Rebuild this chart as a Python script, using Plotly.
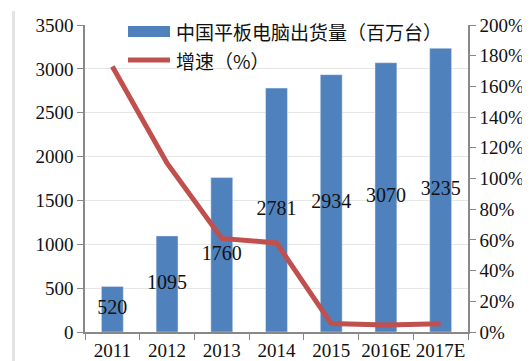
import plotly.graph_objects as go

years = ["2011", "2012", "2013", "2014", "2015", "2016E", "2017E"]
shipments = [520, 1095, 1760, 2781, 2934, 3070, 3235]
growth = [1.73, 1.10, 0.61, 0.58, 0.055, 0.046, 0.054]
bar_name = "中国平板电脑出货量（百万台）"
line_name = "增速（%）"

BLUE = "#4F81BD"
RED = "#C0504D"
SERIF = "Liberation Serif, Times New Roman, serif"
CJK = "Noto Sans CJK SC, sans-serif"

fig = go.Figure()
fig.add_trace(go.Bar(x=years, y=shipments, marker_color=BLUE, name=bar_name,
                     showlegend=False, hoverinfo="skip"))
fig.add_trace(go.Scatter(x=years, y=[v / 2 for v in shipments], mode="text",
                         text=[str(v) for v in shipments],
                         textfont=dict(family=SERIF, size=20, color="#111"),
                         showlegend=False, hoverinfo="skip"))
fig.add_trace(go.Scatter(x=years, y=growth, yaxis="y2", mode="lines",
                         line=dict(color=RED, width=5), name=line_name,
                         showlegend=False))

# manual legend
fig.add_shape(type="rect", xref="paper", yref="paper",
              x0=(120 - 77) / 383, x1=(162 - 77) / 383,
              y0=(324 - 29) / 307, y1=(324 - 18) / 307,
              fillcolor=BLUE, line_width=0)
fig.add_shape(type="line", xref="paper", yref="paper",
              x0=(120 - 77) / 383, x1=(162 - 77) / 383,
              y0=(324 - 52) / 307, y1=(324 - 52) / 307,
              line=dict(color=RED, width=5))
fig.add_annotation(xref="paper", yref="paper", x=(166 - 77) / 383,
                   y=(324 - 23) / 307, text=bar_name, showarrow=False,
                   xanchor="left", yanchor="middle",
                   font=dict(family=CJK, size=19, color="#111"))
fig.add_annotation(xref="paper", yref="paper", x=(166 - 77) / 383,
                   y=(324 - 52) / 307, text=line_name, showarrow=False,
                   xanchor="left", yanchor="middle",
                   font=dict(family=CJK, size=19, color="#111"))
# left gray frame edge
fig.add_shape(type="rect", xref="paper", yref="paper",
              x0=(4 - 77) / 383, x1=(7 - 77) / 383,
              y0=(324 - 358) / 307, y1=(324 - 3) / 307,
              fillcolor="#E3E3E3", line_width=0, layer="below")

fig.update_layout(
    width=530, height=361,
    margin=dict(l=77, r=70, t=17, b=37),
    paper_bgcolor="white", plot_bgcolor="white",
    bargap=0.6,
    font=dict(family=SERIF, size=19, color="#111"),
    xaxis=dict(type="category", showline=True, linecolor="#888", linewidth=1.5,
               ticks="outside", tickson="boundaries", ticklen=6, tickcolor="#888",
               tickangle=0, automargin=False,
               tickfont=dict(family=SERIF, size=19), showgrid=False),
    yaxis=dict(range=[0, 3500], dtick=500, showline=True, linecolor="#888",
               linewidth=1.5, ticks="outside", ticklen=6, tickcolor="#888",
               gridcolor="#E6E6E6", zeroline=False, automargin=False,
               tickfont=dict(family=SERIF, size=19)),
    yaxis2=dict(range=[0, 2], dtick=0.2, tickformat=".0%", overlaying="y",
                side="right", showline=True, linecolor="#888", linewidth=1.5,
                ticks="outside", ticklen=6, tickcolor="#888", showgrid=False,
                zeroline=False, automargin=False,
                tickfont=dict(family=SERIF, size=19)),
)

fig.write_html("out.html")
